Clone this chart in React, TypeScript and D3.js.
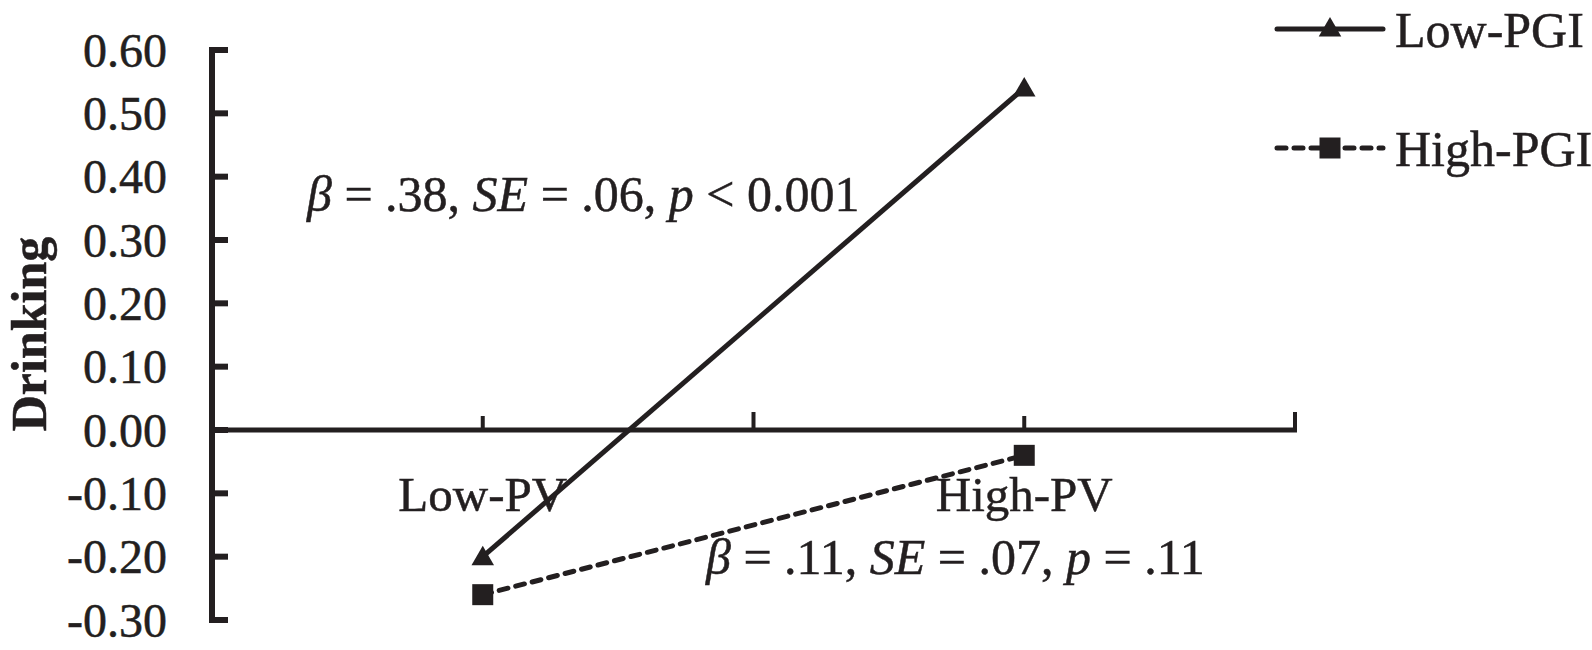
import React from 'react'
import * as d3 from 'd3'

const categories = ['Low-PV', 'High-PV']
const seriesNames = ['Low-PGI', 'High-PGI']
const lowPGI = [-0.2, 0.54]
const highPGI = [-0.26, -0.04]
const yTicks = [0.6, 0.5, 0.4, 0.3, 0.2, 0.1, 0.0, -0.1, -0.2, -0.3]
const notes = [
    { beta: '.38', se: '.06', rel: '<', p: '0.001' },
    { beta: '.11', se: '.07', rel: '=', p: '.11' }
]

const width = 1592
const height = 650
const ink = '#231f20'
const font = '"Liberation Serif", "Times New Roman", serif'

const fmt = d3.formatLocale({
    decimal: '.', thousands: ',', grouping: [3], currency: ['', ''], minus: '-'
}).format('.2f')

export default function App() {
    const y = d3.scaleLinear().domain([-0.3, 0.6]).range([620, 50])
    const x = d3.scaleBand().domain(categories).range([212, 1295])
    const cx = (c: string) => (x(c) as number) + x.bandwidth() / 2

    const line = d3.line<number>()
        .x((d, i) => cx(categories[i]))
        .y(d => y(d))

    const tri = d3.symbol(d3.symbolTriangle, 220)
    const sq = d3.symbol(d3.symbolSquare, 441)

    // tick positions on the category axis: band edges plus band centres
    const edgeTicks = [...categories.map(c => x(c) as number), x.range()[1]]
    const centreTicks = categories.map(cx)

    const x0 = x.range()[0]
    const x1 = x.range()[1]

    const legendY = [29, 148]

    return (
        <svg width={width} height={height}
            style={{ position: 'absolute', left: 0, top: 0, background: '#fff' }}
            fontFamily={font} fill={ink}>

            <g stroke={ink} strokeWidth={0.5}>
                {yTicks.map(t => (
                    <text key={t} x={167} y={y(t)} dy="0.35em" textAnchor="end" fontSize={48}>{fmt(t)}</text>
                ))}
                <text transform={`translate(46,334) rotate(-90)`} textAnchor="middle"
                    fontSize={50} fontWeight="bold">Drinking</text>
                {categories.map(c => (
                    <text key={c} x={cx(c)} y={511} textAnchor="middle" fontSize={49}>{c}</text>
                ))}
                {notes.map((n, i) => (
                    <text key={i} x={i === 0 ? 307 : 706} y={i === 0 ? 211 : 574} fontSize={50}>
                        <tspan fontStyle="italic">β</tspan> = {n.beta}, <tspan fontStyle="italic">SE</tspan> = {n.se}, <tspan fontStyle="italic">p</tspan> {n.rel} {n.p}
                    </text>
                ))}
                {seriesNames.map((s, i) => (
                    <text key={s} x={1395} y={legendY[i]} dy="0.35em" fontSize={50}>{s}</text>
                ))}
            </g>

            {/* y axis */}
            <line x1={x0} x2={x0} y1={y(0.6) - 3} y2={y(-0.3) + 3} stroke={ink} strokeWidth={6} />
            {yTicks.map(t => (
                <line key={t} x1={x0} x2={x0 + 16} y1={y(t)} y2={y(t)} stroke={ink} strokeWidth={6} />
            ))}

            {/* x axis */}
            <line x1={x0} x2={x1 + 2} y1={y(0)} y2={y(0)} stroke={ink} strokeWidth={5} />
            {edgeTicks.map(t => (
                <line key={'e' + t} x1={t} x2={t} y1={y(0)} y2={y(0) - 18} stroke={ink} strokeWidth={4} />
            ))}
            {centreTicks.map(t => (
                <line key={'c' + t} x1={t} x2={t} y1={y(0)} y2={y(0) - 14} stroke={ink} strokeWidth={4} />
            ))}

            {/* series */}
            <path d={line(lowPGI) as string} fill="none" stroke={ink} strokeWidth={5} />
            <path d={line(highPGI) as string} fill="none" stroke={ink} strokeWidth={5}
                strokeDasharray="9,8" strokeLinecap="round" />
            {lowPGI.map((v, i) => (
                <path key={'t' + i} d={tri() as string}
                    transform={`translate(${cx(categories[i])},${y(v) + 2})`} />
            ))}
            {highPGI.map((v, i) => (
                <path key={'s' + i} d={sq() as string}
                    transform={`translate(${cx(categories[i])},${y(v)})`} />
            ))}

            {/* legend */}
            {seriesNames.map((s, i) => (
                <g key={s}>
                    <line x1={1277} x2={1383} y1={legendY[i]} y2={legendY[i]} stroke={ink} strokeWidth={5}
                        strokeDasharray={i === 1 ? '9,8' : undefined} strokeLinecap="round" />
                    <path d={(i === 0 ? tri() : sq()) as string}
                        transform={`translate(1330,${legendY[i] + (i === 0 ? 1 : 0)})`} />
                </g>
            ))}
        </svg>
    )
}
